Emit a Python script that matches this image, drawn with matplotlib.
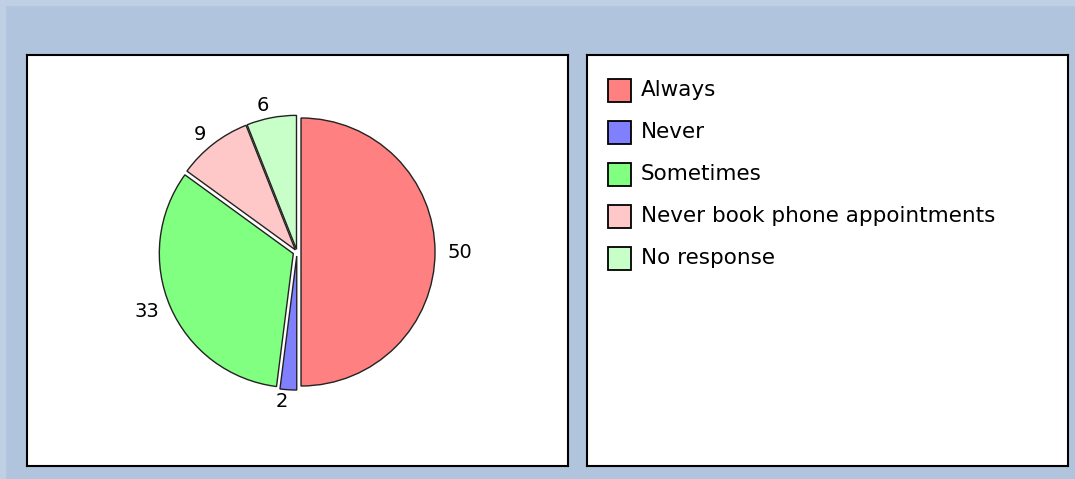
import matplotlib.pyplot as plt
from matplotlib.patches import Rectangle

# data
labels = ['Always', 'Never', 'Sometimes', 'Never book phone appointments', 'No response']
values = [50, 2, 33, 9, 6]
colors = ['#FF8080', '#8080FF', '#80FF80', '#FFC8C8', '#C8FFC8']
explode = [0.03, 0.03, 0.03, 0.02, 0.02]

W, H = 1075, 479


def box(x0, y0, x1, y1):
    # pixel box (top-left origin) -> figure fraction rect
    return [x0 / W, 1 - y1 / H, (x1 - x0) / W, (y1 - y0) / H]


plt.rcParams['font.family'] = ['DejaVu Sans']
fig = plt.figure(figsize=(W / 100, H / 100), dpi=100, facecolor='#B0C4DE')

# lighter bevel strip on top and left edge
fig.patches.append(Rectangle((0, 1 - 5 / H), 1, 5 / H, transform=fig.transFigure,
                             color='#BFCFE4', zorder=0))
fig.patches.append(Rectangle((0, 0), 5 / W, 1, transform=fig.transFigure,
                             color='#BFCFE4', zorder=0))

# two white panels
panels = []
for rect in [box(27, 55, 568, 466), box(587, 55, 1068, 466)]:
    ax = fig.add_axes(rect)
    ax.set_facecolor('white')
    ax.set_xticks([])
    ax.set_yticks([])
    for s in ax.spines.values():
        s.set_color('black')
        s.set_linewidth(1.5)
    panels.append(ax)

# pie, centre ~(297,252), radius ~134 px
ax_pie = fig.add_axes(box(96, 51, 498, 453))
ax_pie.set_facecolor('none')
wedges, texts = ax_pie.pie(values, labels=[str(v) for v in values], colors=colors,
                           explode=explode, startangle=90, counterclock=False,
                           labeldistance=1.09,
                           wedgeprops=dict(edgecolor='#222222', linewidth=1),
                           textprops=dict(fontsize=14, color='black'))
ax_pie.set_xlim(-1.5, 1.5)
ax_pie.set_ylim(-1.5, 1.5)
ax_pie.set_aspect('auto')
ax_pie.axis('off')

# legend drawn in right panel (pixel units inside panel)
ax_leg = panels[1]
ax_leg.set_xlim(0, 1068 - 587)
ax_leg.set_ylim(466 - 55, 0)
for i, (lab, col) in enumerate(zip(labels, colors)):
    yc = 35 + i * 42
    ax_leg.add_patch(Rectangle((20.5, yc - 11.5), 23, 23, facecolor=col,
                               edgecolor='black', linewidth=1.3))
    ax_leg.text(54, yc, lab, va='center', ha='left', fontsize=15.5)

fig.savefig('out.png', dpi=100, facecolor=fig.get_facecolor())
